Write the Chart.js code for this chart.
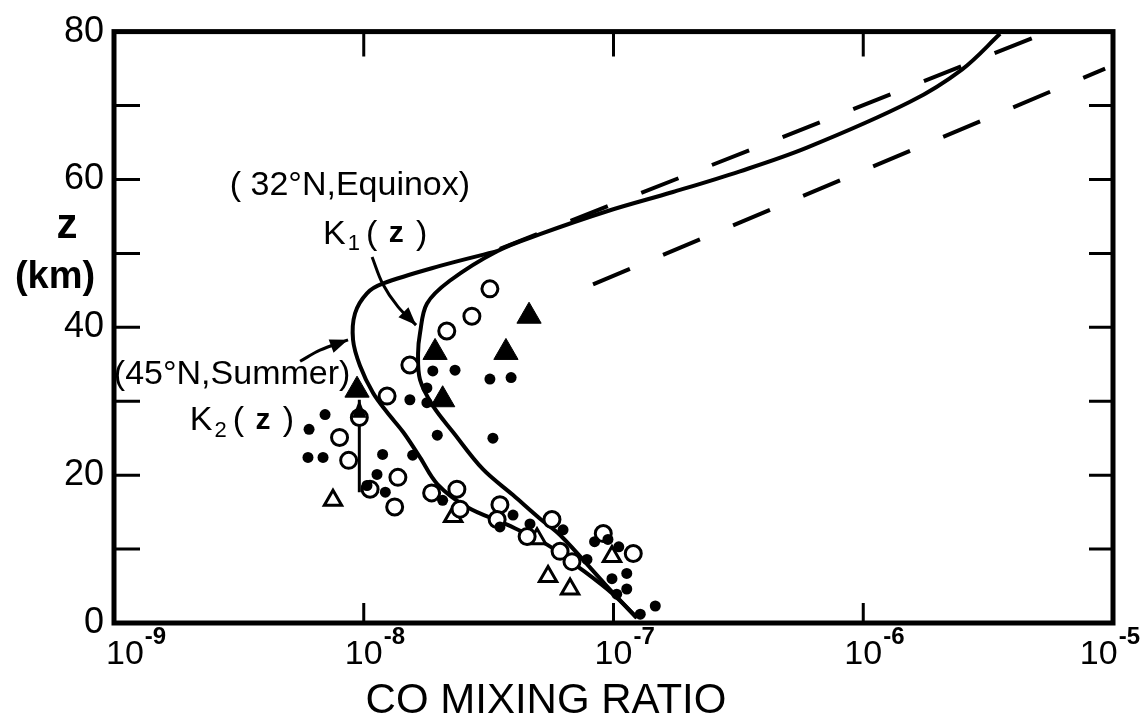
<!DOCTYPE html>
<html>
<head>
<meta charset="utf-8">
<title>CO mixing ratio profile</title>
<script src="https://cdn.jsdelivr.net/npm/chart.js@4.4.1/dist/chart.umd.min.js"></script>
<style>
  html, body { margin: 0; padding: 0; background: #fff; }
  #wrap { width: 1142px; height: 727px; position: relative; }
</style>
</head>
<body>
<div id="wrap"><canvas id="chart"></canvas></div>
<script>
// values: CO mixing ratio (x) against altitude z in km (y)
const xTickValues = [1e-9, 1e-8, 1e-7, 1e-6, 1e-5];
const yTickLabels = [0, 20, 40, 60, 80];
const yTickMarks = [10, 20, 30, 40, 50, 60, 70];

// K1(z), 32N equinox, joined by the common upper branch
const k1X = [1.24e-7, 1.0e-7, 8.83e-8, 6.11e-8, 5.08e-8, 3.96e-8, 3.0e-8, 2.28e-8, 1.89e-8, 1.68e-8, 1.65e-8, 1.68e-8, 1.79e-8, 2.21e-8, 3.42e-8, 5.08e-8, 9.42e-8, 1.73e-7, 3.21e-7, 5.95e-7, 1.54e-6, 2.49e-6, 3.53e-6];
const k1Z = [0.7, 4.0, 6.0, 11.9, 14.1, 17.3, 20.8, 25.8, 29.4, 32.9, 36.5, 39.2, 43.2, 46.3, 50.3, 52.6, 55.7, 58.3, 61.1, 64.3, 70.5, 74.9, 79.7];

// K2(z), 45N summer
const k2X = [1.24e-7, 9.96e-8, 7.35e-8, 5.42e-8, 3.75e-8, 2.59e-8, 1.97e-8, 1.68e-8, 1.44e-8, 1.24e-8, 1.09e-8, 9.66e-9, 9.06e-9, 9.23e-9, 1.03e-8, 1.19e-8, 2.02e-8, 3.42e-8];
const k2Z = [0.7, 3.9, 7.4, 10.6, 13.3, 15.7, 18.8, 22.4, 25.8, 28.5, 31.1, 34.8, 38.3, 41.9, 44.6, 45.9, 48.3, 50.3];

// dashed lines
const dashUpperX = [3.51e-8, 4.74e-6];
const dashUpperZ = [50.6, 79.1];
const dashLowerX = [8.28e-8, 9.3e-6];
const dashLowerZ = [45.8, 75.0];

// measurements
const openCircX = [3.2e-8, 2.71e-8, 2.15e-8, 1.53e-8, 1.24e-8, 9.6e-9, 8.0e-9, 8.7e-9, 1.37e-8, 1.06e-8, 1.33e-8, 1.87e-8, 2.36e-8, 2.43e-8, 3.51e-8, 3.42e-8, 4.51e-8, 5.67e-8, 6.11e-8, 6.82e-8, 1.2e-7, 9.1e-8];
const openCircZ = [45.2, 41.5, 39.5, 34.9, 30.7, 27.8, 25.1, 22.0, 19.7, 18.1, 15.7, 17.6, 18.1, 15.4, 16.0, 14.0, 11.7, 14.0, 9.7, 8.3, 9.4, 12.1];

const dotX = [1.89e-8, 2.32e-8, 3.2e-8, 3.89e-8, 1.53e-8, 1.97e-8, 3.29e-8, 1.79e-8, 1.79e-8, 1.19e-8, 7.0e-9, 6.04e-9, 5.98e-9, 6.87e-9, 1.13e-8, 1.22e-8, 1.57e-8, 2.07e-8, 3.96e-8, 3.51e-8, 6.28e-8, 4.63e-8, 7.83e-8, 9.5e-8, 1.13e-7, 1.13e-7, 9.86e-8, 1.28e-7, 1.47e-7, 1.03e-7, 8.4e-8, 1.05e-7, 1.03e-8];
const dotZ = [34.1, 34.2, 33.0, 33.2, 30.2, 25.4, 25.0, 31.8, 29.8, 22.8, 28.2, 26.2, 22.4, 22.4, 20.1, 17.7, 22.7, 16.6, 14.6, 13.0, 12.6, 13.4, 8.6, 11.3, 6.7, 4.6, 6.0, 1.2, 2.3, 3.9, 11.0, 10.3, 18.6];

const filledTriX = [4.59e-8, 3.71e-8, 1.93e-8, 2.07e-8, 9.4e-9];
const filledTriZ = [41.5, 36.6, 36.6, 30.2, 31.5];

const openTriX = [7.53e-9, 2.28e-8, 4.94e-8, 5.47e-8, 6.7e-8, 9.86e-8];
const openTriZ = [16.6, 14.4, 11.4, 6.3, 4.6, 9.0];

// pointer arrows (tail ... tip)
const arrowK1X = [1.08e-8, 1.19e-8, 1.37e-8, 1.62e-8];
const arrowK1Z = [49.5, 45.9, 42.8, 40.3];
const arrowK2X = [5.56e-9, 6.68e-9, 8.65e-9];
const arrowK2Z = [35.4, 36.9, 38.3];
const arrowUpX = [9.6e-9, 9.6e-9];
const arrowUpZ = [17.7, 30.2];

const pts = (xs, zs) => xs.map((v, i) => ({ x: v, y: zs[i] }));

const FONT = "'Liberation Sans', Arial, sans-serif";

function lineSet(xs, zs, extra) {
    return Object.assign({
        data: pts(xs, zs),
        showLine: true,
        borderColor: '#000',
        borderWidth: 4,
        pointRadius: 0,
        tension: 0.35,
        fill: false,
        order: 2
    }, extra);
}

function markerSet(xs, zs, style, radius, fillColor, bw) {
    return {
        data: pts(xs, zs),
        showLine: false,
        pointStyle: style,
        pointRadius: radius,
        pointBackgroundColor: fillColor,
        pointBorderColor: '#000',
        pointBorderWidth: bw,
        order: 1
    };
}

function arrowHead(ctx, fx, fy, tx, ty) {
    const ang = Math.atan2(ty - fy, tx - fx);
    const len = 18, half = 7;
    ctx.beginPath();
    ctx.moveTo(tx, ty);
    ctx.lineTo(tx - len * Math.cos(ang) + half * Math.sin(ang), ty - len * Math.sin(ang) - half * Math.cos(ang));
    ctx.lineTo(tx - len * Math.cos(ang) - half * Math.sin(ang), ty - len * Math.sin(ang) + half * Math.cos(ang));
    ctx.closePath();
    ctx.fill();
}

// K with subscript, then "( z )"
function kLabel(ctx, left, midY, sub) {
    ctx.textAlign = 'left';
    ctx.textBaseline = 'middle';
    ctx.font = '34px ' + FONT;
    ctx.fillText('K', left, midY);
    let px = left + ctx.measureText('K').width + 2;
    ctx.font = '22px ' + FONT;
    ctx.fillText(sub, px, midY + 10);
    px += ctx.measureText(sub).width + 6;
    ctx.font = '34px ' + FONT;
    ctx.fillText('(', px, midY);
    px += ctx.measureText('( ').width + 2;
    ctx.font = 'bold 30px ' + FONT;
    ctx.fillText('z', px, midY);
    px += ctx.measureText('z ').width + 4;
    ctx.font = '34px ' + FONT;
    ctx.fillText(')', px, midY);
}

const decor = {
    id: 'decor',
    afterDraw(chart) {
        const { ctx, chartArea: a, scales: { x, y } } = chart;
        ctx.save();
        ctx.strokeStyle = '#000';
        ctx.fillStyle = '#000';

        // frame
        ctx.lineWidth = 5;
        ctx.strokeRect(a.left, a.top, a.right - a.left, a.bottom - a.top);

        // inward tick marks
        ctx.lineWidth = 3;
        ctx.beginPath();
        yTickMarks.forEach(v => {
            const py = y.getPixelForValue(v);
            ctx.moveTo(a.left, py); ctx.lineTo(a.left + 26, py);
            ctx.moveTo(a.right, py); ctx.lineTo(a.right - 24, py);
        });
        xTickValues.slice(1, -1).forEach(v => {
            const px = x.getPixelForValue(v);
            ctx.moveTo(px, a.top); ctx.lineTo(px, a.top + 25);
            ctx.moveTo(px, a.bottom); ctx.lineTo(px, a.bottom - 20);
        });
        ctx.stroke();

        // x tick labels 10^n, kept inside the page at both ends
        xTickValues.forEach(v => {
            const px = x.getPixelForValue(v);
            const sup = String(Math.round(Math.log10(v)));
            ctx.font = '34px ' + FONT;
            const w = ctx.measureText('10').width;
            ctx.font = 'bold 24px ' + FONT;
            const ws = ctx.measureText(sup).width;
            let left = Math.max(px - w / 2, 106);
            if (left + w + 1 + ws > 1140) left = 1140 - ws - 1 - w;
            ctx.textAlign = 'left';
            ctx.textBaseline = 'middle';
            ctx.font = '34px ' + FONT;
            ctx.fillText('10', left, a.bottom + 32);
            ctx.font = 'bold 24px ' + FONT;
            ctx.fillText(sup, left + w + 1, a.bottom + 14);
        });

        // axis titles
        ctx.textAlign = 'center';
        ctx.textBaseline = 'middle';
        ctx.font = '42px ' + FONT;
        ctx.fillText('CO MIXING RATIO', 546, 701);
        ctx.font = 'bold 42px ' + FONT;
        ctx.fillText('z', 67, 226);
        ctx.font = 'bold 38px ' + FONT;
        ctx.fillText('(km)', 55, 278);

        // curve labels
        ctx.font = '34px ' + FONT;
        ctx.fillText('( 32°N,Equinox)', x.getPixelForValue(8.8e-9), y.getPixelForValue(59.1));
        ctx.fillText('(45°N,Summer)', x.getPixelForValue(2.97e-9), y.getPixelForValue(33.6));
        kLabel(ctx, x.getPixelForValue(6.87e-9), y.getPixelForValue(52.6), '1');
        kLabel(ctx, x.getPixelForValue(2.01e-9), y.getPixelForValue(27.4), '2');

        // arrow heads
        [[arrowK1X, arrowK1Z], [arrowK2X, arrowK2Z], [arrowUpX, arrowUpZ]].forEach(([xs, zs]) => {
            const n = xs.length;
            arrowHead(ctx,
                x.getPixelForValue(xs[n - 2]), y.getPixelForValue(zs[n - 2]),
                x.getPixelForValue(xs[n - 1]), y.getPixelForValue(zs[n - 1]));
        });
        ctx.restore();
    }
};

new Chart(document.getElementById('chart'), {
    type: 'scatter',
    data: {
        datasets: [
            lineSet(k1X, k1Z),
            lineSet(k2X, k2Z),
            lineSet(dashUpperX, dashUpperZ, { borderDash: [40, 36], tension: 0 }),
            lineSet(dashLowerX, dashLowerZ, { borderDash: [40, 36], tension: 0 }),
            lineSet(arrowK1X, arrowK1Z, { borderWidth: 3 }),
            lineSet(arrowK2X, arrowK2Z, { borderWidth: 3 }),
            lineSet(arrowUpX, arrowUpZ, { borderWidth: 3, tension: 0 }),
            markerSet(dotX, dotZ, 'circle', 5.5, '#000', 0),
            markerSet(openCircX, openCircZ, 'circle', 8, '#fff', 3),
            markerSet(openTriX, openTriZ, 'triangle', 10, '#fff', 3),
            markerSet(filledTriX, filledTriZ, 'triangle', 14, '#000', 1)
        ]
    },
    options: {
        responsive: true,
        maintainAspectRatio: false,
        animation: false,
        layout: { padding: { top: 26, right: 29, bottom: 0, left: 0 } },
        plugins: {
            legend: { display: false },
            tooltip: { enabled: false }
        },
        scales: {
            x: {
                type: 'logarithmic',
                min: 1e-9,
                max: 1e-5,
                grid: { display: false },
                border: { display: false },
                ticks: { display: false },
                afterFit: s => { s.height = 104; }
            },
            y: {
                min: 0,
                max: 80,
                grid: { display: false, drawTicks: false },
                border: { display: false },
                ticks: {
                    stepSize: 20,
                    padding: 10,
                    color: '#000',
                    font: { family: FONT, size: 36 },
                    callback: v => (yTickLabels.includes(v) ? String(v) : '')
                },
                afterFit: s => { s.width = 114; }
            }
        }
    },
    plugins: [decor]
});
</script>
</body>
</html>
